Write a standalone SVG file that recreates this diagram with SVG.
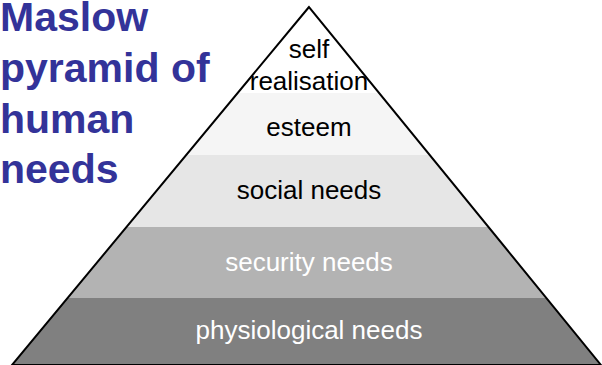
<svg xmlns="http://www.w3.org/2000/svg" width="602" height="365" viewBox="0 0 602 365">
<style>
.t{font-family:"Liberation Sans",Arial,sans-serif;font-size:26px;text-anchor:middle;fill:#000}
.w{fill:#fff}
.title{font-family:"Liberation Sans",Arial,sans-serif;font-size:41px;font-weight:bold;fill:#333399}
</style>
<defs>
<clipPath id="tri"><polygon points="309,7 12,365 601,365"/></clipPath>
</defs>
<rect width="602" height="365" fill="#fff"/>
<g id="title">
<text class="title" x="0" y="31">Maslow</text>
<text class="title" x="0" y="82">pyramid of</text>
<text class="title" x="0" y="133">human</text>
<text class="title" x="0" y="183">needs</text>
</g>
<g id="pyramid" clip-path="url(#tri)">
<rect id="band-self" x="0" y="0" width="602" height="93" fill="#ffffff"/>
<rect id="band-esteem" x="0" y="93" width="602" height="62" fill="#f5f5f5"/>
<rect id="band-social" x="0" y="155" width="602" height="72" fill="#e6e6e6"/>
<rect id="band-security" x="0" y="227" width="602" height="71" fill="#b3b3b3"/>
<rect id="band-physio" x="0" y="298" width="602" height="67" fill="#808080"/>
</g>
<g id="outline"><polygon points="309,7 12,365 601,365" fill="none" stroke="#000" stroke-width="2"/></g>
<g id="self"><text class="t" x="309" y="58">self</text><text class="t" x="309" y="90">realisation</text></g>
<g id="esteem"><text class="t" x="309" y="136">esteem</text></g>
<g id="social"><text class="t" x="309" y="199">social needs</text></g>
<g id="security"><text class="t w" x="309" y="271">security needs</text></g>
<g id="physiological"><text class="t w" x="309" y="339">physiological needs</text></g>
</svg>
